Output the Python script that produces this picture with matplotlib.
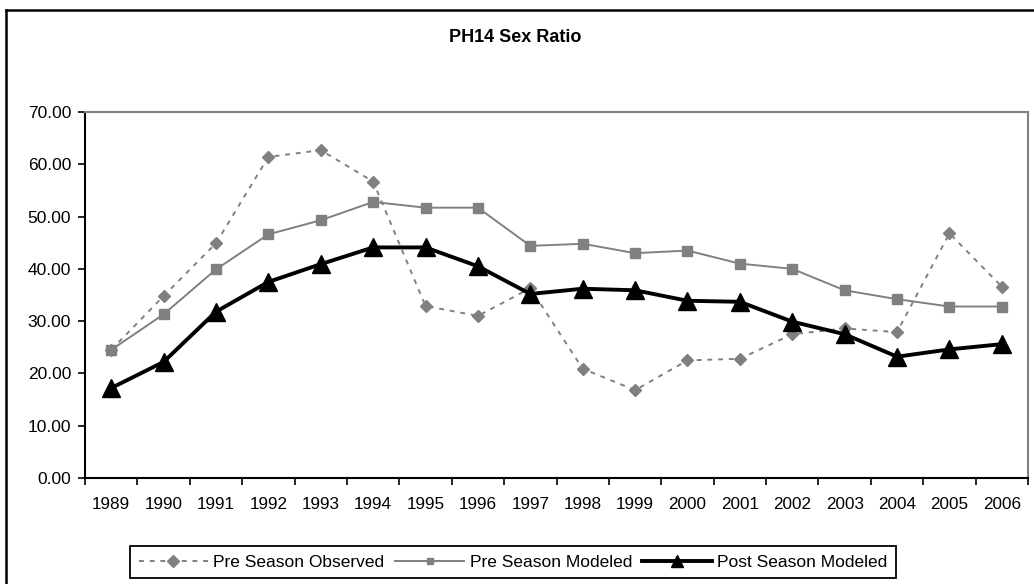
"""
Grafico de lineas: PH14 Sex Ratio (pre y post temporada).
"""

import numpy as np
import matplotlib
matplotlib.use("Agg")
import matplotlib.pyplot as plt
from matplotlib.lines import Line2D

plt.rcParams["font.family"] = ["Liberation Sans", "DejaVu Sans"]

anios = [str(a) for a in range(1989, 2007)]
pre_observado = [24.5, 34.8, 44.9, 61.4, 62.7, 56.7, 32.9, 31.0, 36.3,
                 20.9, 16.8, 22.5, 22.8, 27.5, 28.6, 27.9, 46.8, 36.6]
pre_modelado = [24.5, 31.3, 39.9, 46.6, 49.3, 52.8, 51.7, 51.7, 44.4,
                44.8, 43.0, 43.5, 41.0, 40.0, 35.9, 34.2, 32.8, 32.8]
post_modelado = [17.2, 22.2, 31.8, 37.5, 40.9, 44.1, 44.1, 40.5, 35.2,
                 36.2, 35.9, 33.9, 33.7, 29.9, 27.5, 23.2, 24.6, 25.6]

GRIS = "#808080"
W, H = 1034, 584

fig = plt.figure(figsize=(W / 100, H / 100), dpi=100)
ax = fig.add_axes([85 / W, 1 - 478 / H, 943 / W, 366 / H])

x = np.arange(len(anios))
ax.plot(x, pre_observado, color=GRIS, lw=1.4, ls=(0, (2.5, 3)),
        marker="D", ms=6.5, mec=GRIS, mfc=GRIS, label="Pre Season Observed")
ax.plot(x, pre_modelado, color=GRIS, lw=1.4, marker="s", ms=7,
        mec=GRIS, mfc=GRIS, label="Pre Season Modeled")
ax.plot(x, post_modelado, color="black", lw=2.8, marker="^", ms=12.5,
        mec="black", mfc="black", label="Post Season Modeled")

ax.set_xlim(-0.5, len(anios) - 0.5)
ax.set_ylim(0, 70)
ax.set_yticks(np.arange(0, 71, 10))
ax.set_yticklabels([f"{v:.2f}" for v in range(0, 71, 10)], fontsize=12.5)
ax.set_xticks(np.arange(-0.5, len(anios), 1))
ax.set_xticklabels([])
ax.set_xticks(x, minor=True)
ax.set_xticklabels(anios, minor=True, fontsize=12.3)
ax.tick_params(axis="x", which="minor", length=0, pad=14)
ax.tick_params(axis="both", which="major", length=5, width=1.2,
               direction="out", color="black")
ax.tick_params(axis="y", pad=5)

for lado in ["left", "bottom"]:
    ax.spines[lado].set_color("black")
    ax.spines[lado].set_linewidth(1.5)
for lado in ["top", "right"]:
    ax.spines[lado].set_color(GRIS)
    ax.spines[lado].set_linewidth(1.5)

fig.text(515 / W, 1 - 38 / H, "PH14 Sex Ratio", ha="center", va="center",
         fontsize=13, fontweight="bold")

leg = fig.legend(loc="center", bbox_to_anchor=(513 / W, 1 - 562 / H), ncol=3,
                 fontsize=12.5, handlelength=4, columnspacing=0.6,
                 handletextpad=0.3, borderpad=0.5, fancybox=False,
                 edgecolor="black", framealpha=1)
leg.get_frame().set_linewidth(1.3)
for h, ms in zip(leg.legend_handles, [6.5, 5, 8]):
    h.set_markersize(ms)

# marco exterior del grafico
fig.add_artist(Line2D([6 / W, 1], [1 - 10 / H, 1 - 10 / H], color="black", lw=1.8))
fig.add_artist(Line2D([6 / W, 6 / W], [0, 1 - 10 / H], color="black", lw=1.8))

fig.savefig("out.png", dpi=100)
